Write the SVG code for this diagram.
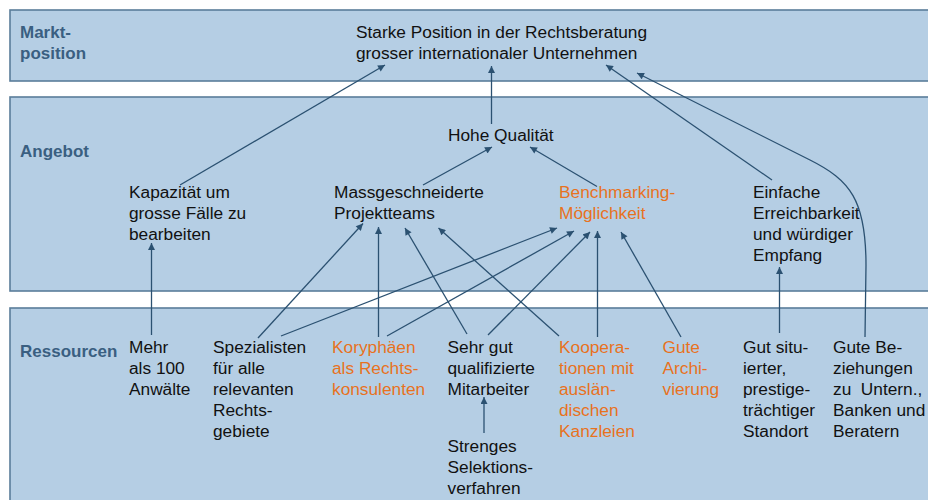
<svg xmlns="http://www.w3.org/2000/svg" width="928" height="500" viewBox="0 0 928 500">
  <defs>
    <marker id="arrow" viewBox="0 0 10 10" refX="10" refY="5" markerWidth="8" markerHeight="7" markerUnits="userSpaceOnUse" orient="auto">
      <path d="M0,0 L10,5 L0,10 z" fill="#2b5171"/>
    </marker>
    <style>
      .band { fill: #b5cee4; stroke: #5a7d9a; stroke-width: 1.6; }
      .head { font-family: "Liberation Sans", Arial, sans-serif; font-size: 17px; font-weight: bold; fill: #3a5f81; }
      .t { font-family: "Liberation Sans", Arial, sans-serif; font-size: 17.3px; fill: #111111; }
      .o { fill: #e8721e; }
      .c { fill: none; stroke: #2b5171; stroke-width: 1.3; marker-end: url(#arrow); }
    </style>
  </defs>

  <!-- layer bands -->
  <g id="bands">
    <rect class="band" x="10" y="10" width="930" height="71"/>
    <rect class="band" x="10" y="97" width="930" height="194"/>
    <rect class="band" x="10" y="308" width="930" height="200"/>
  </g>

  <!-- layer headings -->
  <g id="headings">
    <text class="head" x="20" y="37.5">Markt-</text>
    <text class="head" x="20" y="58.5">position</text>
    <text class="head" x="20" y="157">Angebot</text>
    <text class="head" x="20" y="357">Ressourcen</text>
  </g>

  <!-- market position -->
  <g id="n-position">
    <text class="t" x="356" y="37.5">Starke Position in der Rechtsberatung</text>
    <text class="t" x="356" y="58.5">grosser internationaler Unternehmen</text>
  </g>

  <!-- offering -->
  <g id="n-qualitaet">
    <text class="t" x="448" y="140.5">Hohe Qualität</text>
  </g>
  <g id="n-kapazitaet">
    <text class="t" x="129" y="198">Kapazität um</text>
    <text class="t" x="129" y="219">grosse Fälle zu</text>
    <text class="t" x="129" y="240">bearbeiten</text>
  </g>
  <g id="n-projektteams">
    <text class="t" x="334" y="198">Massgeschneiderte</text>
    <text class="t" x="334" y="219">Projektteams</text>
  </g>
  <g id="n-benchmarking">
    <text class="t o" x="559" y="198">Benchmarking-</text>
    <text class="t o" x="559" y="219">Möglichkeit</text>
  </g>
  <g id="n-erreichbarkeit">
    <text class="t" x="753" y="198">Einfache</text>
    <text class="t" x="753" y="219">Erreichbarkeit</text>
    <text class="t" x="753" y="240">und würdiger</text>
    <text class="t" x="753" y="261">Empfang</text>
  </g>

  <!-- resources -->
  <g id="n-anwaelte">
    <text class="t" x="129" y="353">Mehr</text>
    <text class="t" x="129" y="374">als 100</text>
    <text class="t" x="129" y="395">Anwälte</text>
  </g>
  <g id="n-spezialisten">
    <text class="t" x="213" y="353">Spezialisten</text>
    <text class="t" x="213" y="374">für alle</text>
    <text class="t" x="213" y="395">relevanten</text>
    <text class="t" x="213" y="416">Rechts-</text>
    <text class="t" x="213" y="437">gebiete</text>
  </g>
  <g id="n-koryphaeen">
    <text class="t o" x="332" y="353">Koryphäen</text>
    <text class="t o" x="332" y="374">als Rechts-</text>
    <text class="t o" x="332" y="395">konsulenten</text>
  </g>
  <g id="n-mitarbeiter">
    <text class="t" x="447.5" y="353">Sehr gut</text>
    <text class="t" x="447.5" y="374">qualifizierte</text>
    <text class="t" x="447.5" y="395">Mitarbeiter</text>
  </g>
  <g id="n-selektion">
    <text class="t" x="447.5" y="452">Strenges</text>
    <text class="t" x="447.5" y="473">Selektions-</text>
    <text class="t" x="447.5" y="494">verfahren</text>
  </g>
  <g id="n-kooperationen">
    <text class="t o" x="559" y="353">Koopera-</text>
    <text class="t o" x="559" y="374">tionen mit</text>
    <text class="t o" x="559" y="395">auslän-</text>
    <text class="t o" x="559" y="416">dischen</text>
    <text class="t o" x="559" y="437">Kanzleien</text>
  </g>
  <g id="n-archivierung">
    <text class="t o" x="662.5" y="353">Gute</text>
    <text class="t o" x="662.5" y="374">Archi-</text>
    <text class="t o" x="662.5" y="395">vierung</text>
  </g>
  <g id="n-standort">
    <text class="t" x="743" y="353">Gut situ-</text>
    <text class="t" x="743" y="374">ierter,</text>
    <text class="t" x="743" y="395">prestige-</text>
    <text class="t" x="743" y="416">trächtiger</text>
    <text class="t" x="743" y="437">Standort</text>
  </g>
  <g id="n-beziehungen">
    <text class="t" x="833" y="353">Gute Be-</text>
    <text class="t" x="833" y="374">ziehungen</text>
    <text class="t" x="833" y="395" xml:space="preserve">zu  Untern.,</text>
    <text class="t" x="833" y="416">Banken und</text>
    <text class="t" x="833" y="437">Beratern</text>
  </g>

  <!-- connectors -->
  <g id="connectors">
    <!-- into market position -->
    <line class="c" x1="180" y1="185" x2="385" y2="65"/>
    <line class="c" x1="491.5" y1="124" x2="491.5" y2="66"/>
    <line class="c" x1="772" y1="180" x2="606" y2="65"/>
    <path class="c" d="M865,337 L866,265 C866,200 850,180 810,160 L637,73"/>
    <!-- into quality -->
    <line class="c" x1="423" y1="185" x2="492" y2="147"/>
    <line class="c" x1="597" y1="186.5" x2="530" y2="147"/>
    <!-- into capacity -->
    <line class="c" x1="151.5" y1="335" x2="151.5" y2="243"/>
    <!-- into project teams -->
    <line class="c" x1="258" y1="338" x2="363" y2="223.5"/>
    <line class="c" x1="378.5" y1="337" x2="378.5" y2="227"/>
    <line class="c" x1="467" y1="334" x2="405" y2="228"/>
    <line class="c" x1="559" y1="336" x2="438.5" y2="228"/>
    <!-- into benchmarking -->
    <line class="c" x1="281" y1="336" x2="557" y2="228"/>
    <line class="c" x1="387" y1="336" x2="574" y2="231"/>
    <line class="c" x1="488" y1="335" x2="590" y2="232"/>
    <line class="c" x1="597.5" y1="337" x2="597.5" y2="231"/>
    <line class="c" x1="681" y1="337" x2="621" y2="232"/>
    <!-- into reachability -->
    <line class="c" x1="779.5" y1="333" x2="779.5" y2="267"/>
    <!-- into qualified staff -->
    <line class="c" x1="484" y1="433" x2="484" y2="397"/>
  </g>
</svg>
